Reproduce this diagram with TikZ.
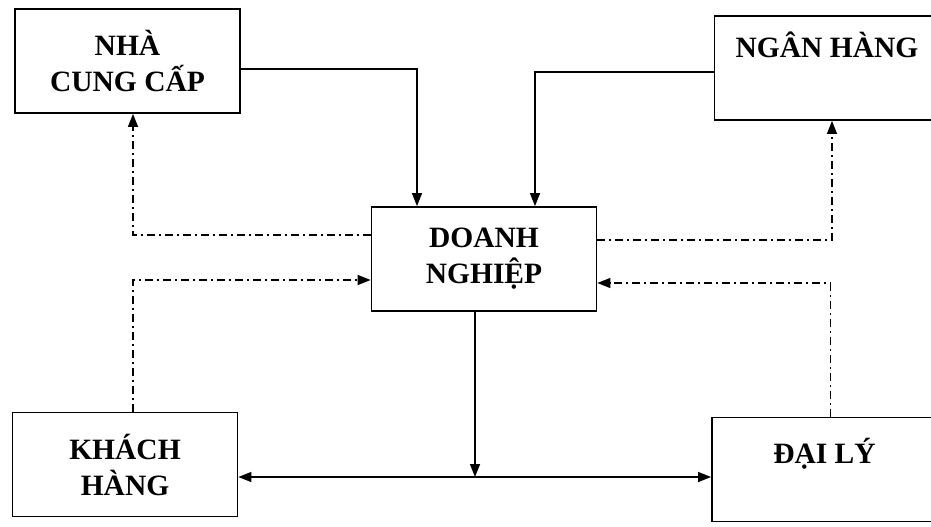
\documentclass[tikz,border=0pt]{standalone}
\usepackage{fontspec}
\setmainfont{Liberation Serif}
\usetikzlibrary{arrows.meta}
\begin{document}
\begin{tikzpicture}[x=1pt,y=-1pt,
    khoi/.style={draw,line width=1.8pt,inner sep=0pt,minimum width=225pt,minimum height=104pt,
        align=center,font=\bfseries\fontsize{29.5}{36}\selectfont},
    tien/.style={line width=1.5pt,-{Triangle[length=13pt,width=10pt]}},
    tin/.style={line width=1.4pt,dash pattern=on 8pt off 4pt on 2pt off 4pt,
        -{Triangle[length=13pt,width=10pt]}}]
    \useasboundingbox (0,0) rectangle (931,527);
    \clip (0,0) rectangle (931,527);
    \node[khoi] (ncc) at (127.5,61) {NHÀ\\CUNG CẤP};
    \node[khoi,text height=42pt,text depth=62pt] (nh) at (827,68) {NGÂN HÀNG};
    \node[khoi] (dn) at (484,259) {DOANH\\NGHIỆP};
    \node[khoi] (kh) at (125,464.5) {KHÁCH\\HÀNG};
    \node[khoi,text height=41pt,text depth=54pt] (dl) at (824.5,469.5) {ĐẠI LÝ};
    \coordinate (nga) at (475,477);
    \draw[tien] ([yshift=-8pt]ncc.east) -| ([xshift=-67pt]dn.north);
    \draw[tien] ([yshift=-4pt]nh.west) -| ([xshift=51pt]dn.north);
    \draw[tin] ([yshift=24pt]dn.west) -| ([xshift=5.5pt]ncc.south);
    \draw[tin] ([yshift=19pt]dn.east) -| ([xshift=5pt]nh.south);
    \draw[tin] ([xshift=8pt]kh.north) |- ([yshift=-21pt]dn.west);
    \draw[tin] ([xshift=6pt]dl.north) |- ([yshift=-24pt]dn.east);
    \draw[tien] (dn.south -| nga) -- (nga);
    \draw[tien,{Triangle[length=13pt,width=10pt]}-{Triangle[length=13pt,width=10pt]}]
        (kh.east |- nga) -- (dl.west |- nga);
\end{tikzpicture}
\end{document}
